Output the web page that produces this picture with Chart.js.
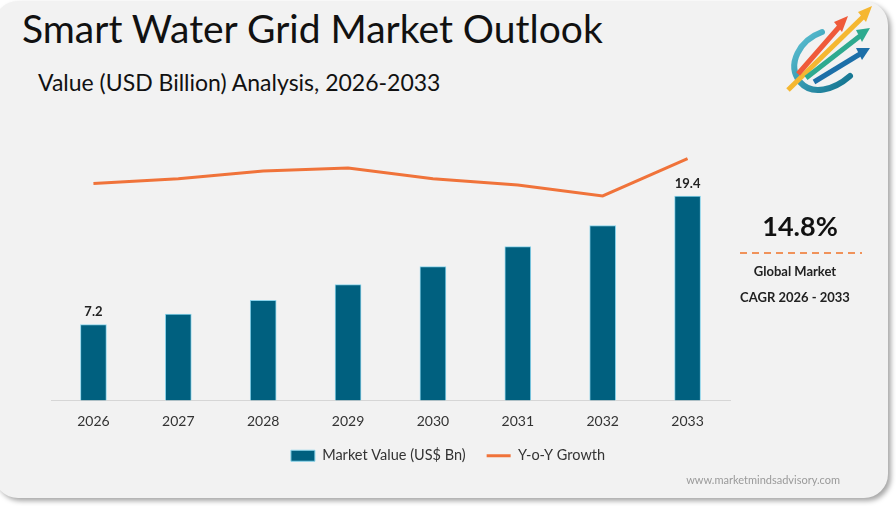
<!DOCTYPE html>
<html>
<head>
<meta charset="utf-8">
<script src="https://cdn.jsdelivr.net/npm/chart.js@4.4.1/dist/chart.umd.min.js"></script>
<style>
html, body { margin:0; padding:0; background:#fff; width:896px; height:506px; overflow:hidden; font-family:Lato, "Open Sans", sans-serif; }
#panel { position:absolute; left:-6px; top:1px; width:894px; height:497px; background:#f2f2f2; border-radius:24px; box-shadow:3px 3px 5px rgba(0,0,0,.35); }
#title { position:absolute; left:22px; top:5px; font-size:39px; color:#111; white-space:nowrap; }
#subtitle { position:absolute; left:38px; top:68px; font-size:23px; color:#111; white-space:nowrap; }
#chart { position:absolute; left:0; top:0; }
#cagr { position:absolute; left:740px; width:120px; text-align:center; top:209px; font-size:27px; font-weight:bold; color:#111; }
#dash { position:absolute; left:740px; top:250px; }
.note { position:absolute; left:715px; width:160px; text-align:center; font-size:13px; font-weight:bold; color:#222; }
#footer { position:absolute; right:56px; top:473px; font-size:11px; color:#9a9a9a; }
#logo { position:absolute; left:778px; top:2px; }
</style>
</head>
<body>
<div id="panel"></div>
<div id="title">Smart Water Grid Market Outlook</div>
<div id="subtitle">Value (USD Billion) Analysis, 2026-2033</div>
<canvas id="chart" width="896" height="506"></canvas>
<div id="cagr">14.8%</div>
<svg id="dash" width="122" height="6"><line x1="0" y1="3" x2="122" y2="3" stroke="#f0925a" stroke-width="2" stroke-dasharray="7,5"/></svg>
<div class="note" style="top:263px">Global Market</div>
<div class="note" style="top:289px">CAGR 2026 - 2033</div>
<div id="footer">www.marketmindsadvisory.com</div>
<svg id="logo" width="104" height="96" viewBox="0 0 104 96">
  <defs>
    <linearGradient id="arcG" x1="0" y1="0" x2="1" y2="1">
      <stop offset="0" stop-color="#5fc4d6"/>
      <stop offset="1" stop-color="#0f6f8c"/>
    </linearGradient>
  </defs>
  <path d="M44 30 C22 38 8 62 22 80 C34 94 56 88 72 74" fill="none" stroke="url(#arcG)" stroke-width="6" stroke-linecap="round"/>
  <line x1="10" y1="88" x2="86" y2="14" stroke="#f5b731" stroke-width="5"/>
  <polygon points="94,4 80,10 88,20" fill="#f5b731"/>
  <line x1="20" y1="72" x2="62" y2="24" stroke="#ef5a3a" stroke-width="5"/>
  <polygon points="70,14 56,20 64,30" fill="#ef5a3a"/>
  <line x1="28" y1="76" x2="82" y2="34" stroke="#2eaa8f" stroke-width="5"/>
  <polygon points="92,26 78,28 84,40" fill="#2eaa8f"/>
  <line x1="36" y1="80" x2="82" y2="52" stroke="#1c6fa8" stroke-width="5"/>
  <polygon points="92,46 78,46 84,58" fill="#1c6fa8"/>
</svg>
<script>
const years = ['2026', '2027', '2028', '2029', '2030', '2031', '2032', '2033'];
const marketValue = [7.2, 8.2, 9.5, 11.0, 12.7, 14.6, 16.6, 19.4];
const yoyGrowth = [14.0, 14.3, 14.8, 15.0, 14.3, 13.9, 13.2, 15.6];
const labelledBars = [0, 7];

const valueLabels = {
  id: 'valueLabels',
  afterDatasetsDraw(chart) {
    const meta = chart.getDatasetMeta(0);
    const ctx = chart.ctx;
    ctx.save();
    ctx.font = 'bold 13px Lato';
    ctx.fillStyle = '#222';
    ctx.textAlign = 'center';
    ctx.textBaseline = 'bottom';
    labelledBars.forEach(i => {
      const bar = meta.data[i];
      ctx.fillText(marketValue[i].toFixed(1), bar.x, bar.y - 6);
    });
    ctx.restore();
  }
};

// legend is centred on the whole card, not on the plot area
const centreLegend = {
  id: 'centreLegend',
  afterLayout(chart) {
    const lg = chart.legend;
    lg.left = 0;
    lg.right = chart.width;
    lg.width = chart.width;
  }
};

const configuration = {
  type: 'bar',
  data: {
    labels: years,
    datasets: [{
      label: 'Market Value (US$ Bn)',
      data: marketValue,
      backgroundColor: '#00607f',
      borderColor: '#8ad3ea',
      borderWidth: 1,
      barThickness: 26,
      yAxisID: 'y',
      order: 2,
      pointStyle: 'rect'
    }, {
      type: 'line',
      label: 'Y-o-Y Growth',
      data: yoyGrowth,
      borderColor: '#f0733a',
      backgroundColor: '#f0733a',
      borderWidth: 3,
      pointRadius: 0,
      tension: 0,
      yAxisID: 'y2',
      order: 1,
      pointStyle: 'line'
    }]
  },
  options: {
    responsive: false,
    animation: false,
    layout: { padding: { left: 51, right: 166, top: 137, bottom: 33 } },
    scales: {
      x: {
        grid: { display: false },
        border: { display: true, color: '#d6d6d6', width: 1 },
        ticks: { color: '#333', font: { family: 'Lato', size: 14 }, padding: 5 },
        afterFit: (axis) => { axis.height = 27; }
      },
      y: { display: false, min: 0, max: 25 },
      y2: { display: false, min: 0, max: 17 }
    },
    plugins: {
      legend: {
        position: 'bottom',
        labels: {
          usePointStyle: true,
          pointStyleWidth: 24,
          boxHeight: 11,
          color: '#333',
          padding: 21,
          font: { family: 'Lato', size: 14.5 },
          sort: (a, b) => a.datasetIndex - b.datasetIndex
        }
      },
      tooltip: { enabled: false }
    }
  },
  plugins: [valueLabels, centreLegend]
};

let chart;
window.onload = function () {
  chart = new Chart(document.getElementById('chart'), configuration);
};
</script>
</body>
</html>
